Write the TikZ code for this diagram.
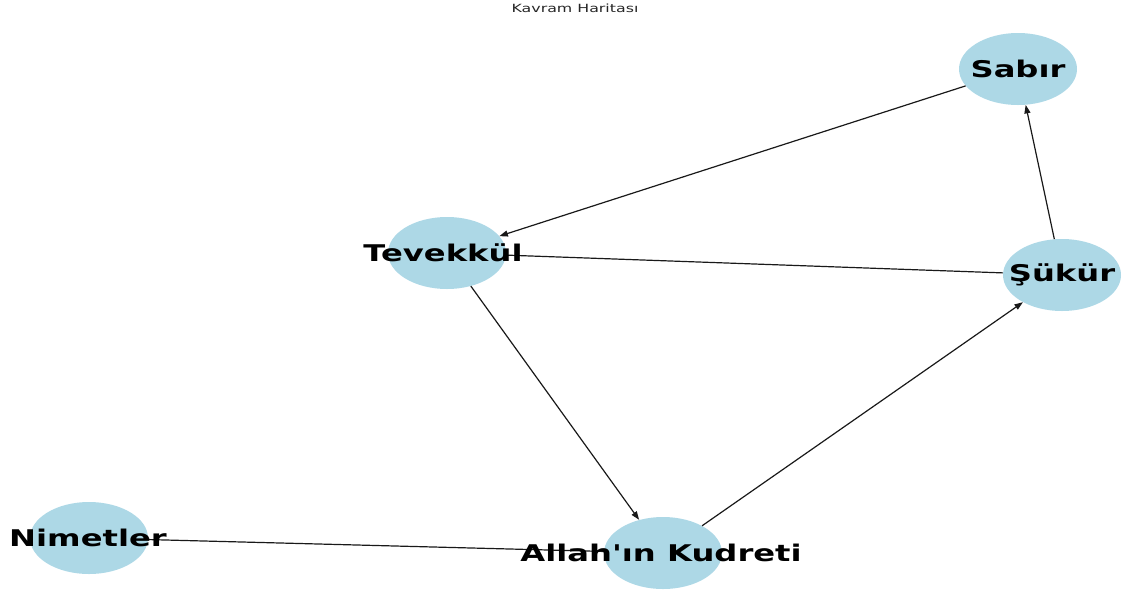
\documentclass[tikz,border=0pt]{standalone}
\usepackage{fontspec}
\setmainfont{DejaVu Sans}
\usetikzlibrary{shapes.geometric,arrows.meta}
\definecolor{nodeblue}{HTML}{ADD8E6}
\newcommand{\widetxt}[1]{\scalebox{1.40}[1]{#1}}
\tikzset{
  concept/.style={ellipse, fill=nodeblue, draw=none, inner sep=0pt, minimum width=118pt, minimum height=72pt},
  lbl/.style={font=\fontsize{23}{25}\selectfont\bfseries, text=black, inner sep=0pt},
  link/.style={draw=black!90, line width=1.2pt},
  arr/.style={link, -{Triangle[length=8.5pt,width=6pt]}},
}
\begin{document}
\begin{tikzpicture}[x=1pt,y=-1pt]
\useasboundingbox (0,0) rectangle (1122,598);
\node[concept] (sab) at (1018,69) {};
\node[concept] (tev) at (447,253) {};
\node[concept] (suk) at (1062,275) {};
\node[concept] (nim) at (89,538) {};
\node[concept] (all) at (663,553) {};

\draw[arr] (sab) -- (tev);
\draw[arr] (suk) -- (sab);
\draw[arr] (tev) -- (all);
\draw[arr] (all) -- (suk);
\draw[link] (suk) -- (tev);
\draw[link] (all) -- (nim);

\node[lbl] (tsab) at (1018,69) {\widetxt{Sabır}};
\node[lbl] (ttev) at (443,253) {\widetxt{Tevekkül}};
\node[lbl] (tsuk) at (1062,275) {\widetxt{Şükür}};
\node[lbl] (tnim) at (88,538) {\widetxt{Nimetler}};
\node[lbl] (tall) at (661,553) {\widetxt{Allah\textquotesingle ın Kudreti}};

\node[font=\fontsize{11.3}{12}\selectfont, text=black!85, inner sep=0pt] (title) at (575,8) {\widetxt{Kavram Haritası}};
\end{tikzpicture}
\end{document}
